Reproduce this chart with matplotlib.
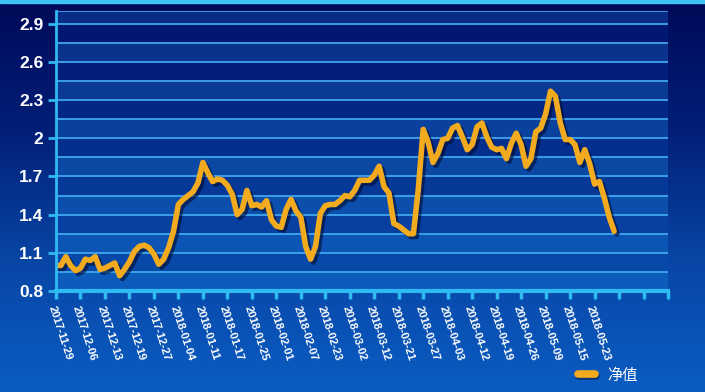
import numpy as np
import matplotlib
matplotlib.use("Agg")
import matplotlib.pyplot as plt
import matplotlib.patheffects as pe
from matplotlib.colors import LinearSegmentedColormap, to_rgb
from matplotlib.patches import Rectangle

# ---------------- data ----------------
nav_values = [
    1.00, 1.00, 1.07, 1.00, 0.96, 0.98, 1.05, 1.04, 1.07, 0.97,
    0.98, 1.00, 1.02, 0.92, 0.97, 1.03, 1.11, 1.15, 1.16, 1.14,
    1.09, 1.01, 1.05, 1.14, 1.27, 1.48, 1.52, 1.55, 1.58, 1.65,
    1.81, 1.73, 1.66, 1.68, 1.67, 1.63, 1.56, 1.40, 1.44, 1.59,
    1.47, 1.48, 1.46, 1.51, 1.36, 1.31, 1.30, 1.44, 1.52, 1.43,
    1.38, 1.15, 1.05, 1.15, 1.41, 1.47, 1.48, 1.48, 1.51, 1.55,
    1.54, 1.59, 1.67, 1.67, 1.67, 1.71, 1.78, 1.62, 1.57, 1.33,
    1.31, 1.28, 1.25, 1.25, 1.60, 2.07, 1.97, 1.81, 1.88, 1.99,
    2.00, 2.08, 2.10, 2.01, 1.91, 1.95, 2.09, 2.12, 2.01, 1.93,
    1.91, 1.92, 1.84, 1.96, 2.04, 1.95, 1.78, 1.84, 2.05, 2.08,
    2.19, 2.37, 2.33, 2.12, 1.99, 1.99, 1.95, 1.81, 1.91, 1.80,
    1.64, 1.66, 1.53, 1.38, 1.27,
]
date_labels = [
    "2017-11-29", "2017-12-06", "2017-12-13", "2017-12-19", "2017-12-27",
    "2018-01-04", "2018-01-11", "2018-01-17", "2018-01-25", "2018-02-01",
    "2018-02-07", "2018-02-23", "2018-03-02", "2018-03-12", "2018-03-21",
    "2018-03-27", "2018-04-03", "2018-04-12", "2018-04-19", "2018-04-26",
    "2018-05-09", "2018-05-15", "2018-05-23",
]
series_name = "净值"
y_ticks = [0.8, 1.1, 1.4, 1.7, 2.0, 2.3, 2.6, 2.9]
y_tick_labels = ["0.8", "1.1", "1.4", "1.7", "2", "2.3", "2.6", "2.9"]

label_step = 5
n_ticks = 26

# ---------------- figure ----------------
W, H = 705, 392
fig = plt.figure(figsize=(W / 100, H / 100), dpi=100)

# background gradient
bg = fig.add_axes([0, 0, 1, 1], zorder=-10)
bg.axis("off")
cmap_bg = LinearSegmentedColormap.from_list("bg", ["#000a58", "#021f78", "#0846a6", "#0b5cc2"])
grad = np.linspace(0, 1, 256).reshape(-1, 1)
bg.imshow(grad, aspect="auto", cmap=cmap_bg, extent=[0, 1, 0, 1], origin="upper")
bg.set_xlim(0, 1)
bg.set_ylim(0, 1)
bg.add_patch(Rectangle((0, 1 - 3 / H), 1, 3 / H, color="#3cc4f2", zorder=5))

ax = fig.add_axes([56 / W, (H - 291) / H, (668 - 56) / W, (291 - 11) / H])
ax.set_xlim(0, (n_ticks - 1) * label_step)
ax.set_ylim(0.8, 3.0)
ax.patch.set_alpha(0)

# alternating gradient bands
def mix(c1, c2, t):
    a, b = np.array(to_rgb(c1)), np.array(to_rgb(c2))
    return tuple(a + (b - a) * t)

band_edges = np.round(np.arange(0.8, 3.0001, 0.15), 4)
band_edges = list(band_edges) + [3.0]
for k in range(len(band_edges) - 1):
    lo, hi = band_edges[k], band_edges[k + 1]
    if hi <= lo:
        continue
    t = 1 - (lo - 0.8) / 2.2
    if k % 2 == 0:
        col = mix("#082a82", "#0d5cbc", t)
    else:
        col = mix("#00106a", "#094cae", t)
    ax.axhspan(lo, hi, color=col, zorder=0, lw=0)

for g in band_edges[1:]:
    ax.axhline(g, color="#3fa6ee", lw=1.3, zorder=1)

x = np.arange(len(nav_values))
line, = ax.plot(x, nav_values, color="#f2aa1e", lw=4.0, solid_joinstyle="round",
                solid_capstyle="round", zorder=5, label=series_name,
                path_effects=[pe.SimpleLineShadow(offset=(2, -2), shadow_color="#000a30", alpha=0.6),
                              pe.Normal()])

for s in ["top", "right"]:
    ax.spines[s].set_visible(False)
ax.spines["left"].set_color("#2fbaf2")
ax.spines["left"].set_linewidth(2)
ax.spines["bottom"].set_color("#2fbaf2")
ax.spines["bottom"].set_linewidth(3)
ax.spines["left"].set_zorder(6)
ax.spines["bottom"].set_zorder(6)

ax.set_yticks(y_ticks)
ax.set_yticklabels(y_tick_labels)
ax.tick_params(axis="y", direction="out", length=6, width=2, color="#2fbaf2", pad=3,
               labelsize=12.5, labelcolor="white")
for t in ax.get_yticklabels():
    t.set_fontfamily("Liberation Sans")
    t.set_fontweight("bold")

xt = [i * label_step for i in range(n_ticks)]
ax.set_xticks(xt)
xl = [date_labels[i] if i < len(date_labels) else "" for i in range(n_ticks)]
ax.set_xticklabels(xl, rotation=-72, ha="left", va="top", rotation_mode="anchor")
ax.tick_params(axis="x", direction="out", length=6, width=2.5, color="#2fbaf2", pad=4,
               labelsize=8, labelcolor="white")
for t in ax.get_xticklabels():
    t.set_fontfamily("Liberation Sans")
    t.set_fontweight("bold")

leg = fig.legend(handles=[line], labels=[series_name], loc="center left",
                 bbox_to_anchor=(578 / W, 1 - 375 / H), frameon=False,
                 handlelength=1.1, handletextpad=0.8, borderpad=0, borderaxespad=0,
                 prop={"family": ["Noto Sans CJK SC", "DejaVu Sans"], "size": 11})
for t in leg.get_texts():
    t.set_color("white")
for l in leg.get_lines():
    l.set_linewidth(5.5)
    l.set_path_effects([pe.SimpleLineShadow(offset=(1, -1), shadow_color="#000a30", alpha=0.5), pe.Normal()])

fig.savefig("out.png", dpi=100)
